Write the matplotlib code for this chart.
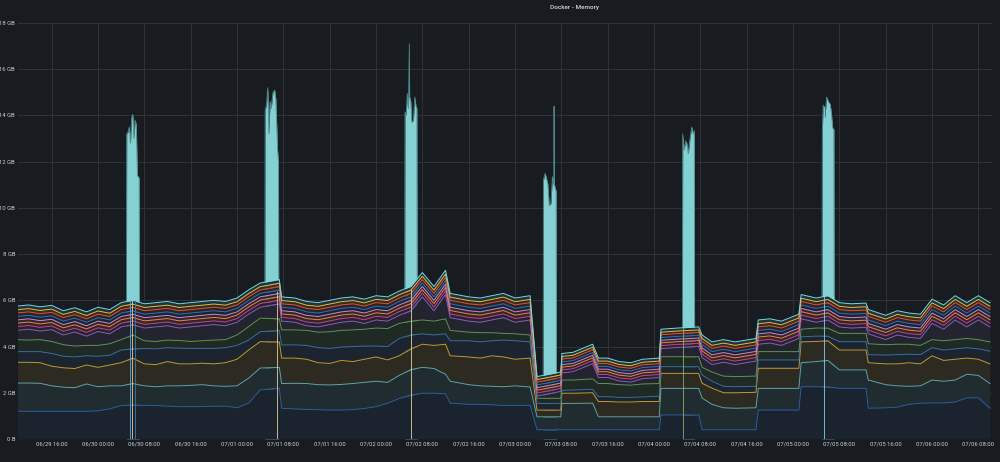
import numpy as np
import matplotlib
matplotlib.use("Agg")
import matplotlib.pyplot as plt
import matplotlib.dates as mdates
from matplotlib.colors import to_rgb

plt.rcParams['font.family'] = ['Roboto', 'DejaVu Sans']

# sample times, hours relative to 06/29 16:00 (denser around the step changes)
start = np.datetime64('2020-06-29T16:00')
hours = [-6, -4, -2, 0, 2, 4, 6, 8, 10,
         12, 14, 16, 18, 20, 22, 24, 26, 28, 30,
         32, 34, 36, 39.3, 39.7,
         42, 44, 46, 48, 50, 52, 54, 56, 58, 60, 62,
         64, 66, 68, 68.8, 72, 74, 76, 78, 80, 82.6,
         83.8, 87.9, 88.1, 90, 93.4, 94.4, 96, 98, 100, 102, 104.9,
         105.2, 108, 111.7,
         112.3, 114, 116, 118, 121.6,
         122, 124, 126, 129,
         129.4, 132, 134,
         136, 138, 140.6,
         141, 144, 146, 148, 150,
         152, 154, 156, 158, 160, 162]

# stacked series (GB), bottom -> top
navy = [1.20, 1.20, 1.20, 1.20, 1.20, 1.20, 1.20, 1.22, 1.30,
        1.45, 1.47, 1.45, 1.45, 1.42, 1.40, 1.40, 1.40, 1.42, 1.42,
        1.35, 1.55, 2.12, 2.20, 1.33,
        1.30, 1.28, 1.27, 1.25, 1.25, 1.27, 1.32, 1.40, 1.55, 1.75, 1.90,
        1.98, 1.98, 1.95, 1.55, 1.50, 1.50, 1.48, 1.45, 1.45, 1.45,
        0.40, 0.40, 0.40, 0.40, 0.40, 0.40, 0.40, 0.40, 0.40, 0.40, 0.40,
        1.04, 1.04, 1.04,
        0.40, 0.40, 0.40, 0.40, 0.40,
        1.25, 1.25, 1.25, 1.25,
        2.26, 2.26, 2.26,
        2.19, 2.19, 2.19,
        1.33, 1.35, 1.38, 1.50, 1.55,
        1.56, 1.56, 1.60, 1.78, 1.78, 1.33]
teal = [1.22, 1.22, 1.21, 1.10, 1.04, 1.02, 1.18, 1.04, 1.00,
        0.85, 0.93, 0.85, 0.81, 0.88, 0.90, 0.92, 0.95, 0.88, 0.86,
        0.95, 1.08, 0.95, 0.90, 1.07,
        1.11, 1.12, 1.08, 1.09, 1.11, 1.13, 1.13, 1.10, 0.90, 1.00, 1.10,
        1.12, 1.07, 0.85, 0.95, 0.85, 0.80, 0.80, 0.81, 0.85, 0.80,
        0.56, 0.56, 1.14, 1.14, 1.15, 0.56, 0.56, 0.56, 0.56, 0.56, 0.56,
        1.15, 1.15, 1.15,
        1.37, 1.10, 0.95, 0.93, 0.95,
        0.94, 0.94, 0.94, 0.94,
        1.04, 1.09, 1.14,
        0.80, 0.80, 0.80,
        1.22, 1.00, 0.92, 0.78, 0.75,
        0.99, 0.94, 0.95, 1.02, 0.97, 1.07]
yellow = [0.90, 0.90, 0.89, 0.85, 0.84, 0.83, 0.82, 0.84, 0.90,
          1.00, 1.10, 0.95, 0.96, 1.05, 0.95, 0.93, 0.93, 0.95, 1.02,
          1.15, 1.22, 1.14, 1.10, 1.10,
          1.09, 1.05, 0.95, 0.93, 1.04, 0.95, 1.00, 1.05, 0.97, 0.85, 0.90,
          1.00, 1.00, 1.30, 1.10, 1.20, 1.20, 1.32, 1.29, 1.15, 1.25,
          0.29, 0.29, 0.44, 0.44, 0.45, 0.66, 0.66, 0.64, 0.64, 0.66, 0.66,
          0.65, 0.65, 0.65,
          0.64, 0.70, 0.65, 0.67, 0.67,
          0.87, 0.87, 0.87, 0.87,
          0.90, 0.87, 0.85,
          0.86, 0.86, 0.86,
          0.75, 0.90, 0.95, 1.02, 0.95,
          1.05, 0.90, 0.90, 0.70, 0.70, 0.85]
blue = [0.46, 0.46, 0.48, 0.55, 0.50, 0.50, 0.40, 0.48, 0.42,
        0.55, 0.40, 0.67, 0.68, 0.60, 0.68, 0.67, 0.64, 0.67, 0.65,
        0.60, 0.43, 0.43, 0.50, 0.57,
        0.57, 0.60, 0.65, 0.65, 0.58, 0.65, 0.57, 0.47, 0.58, 0.75, 0.60,
        0.45, 0.45, 0.45, 0.65, 0.70, 0.70, 0.65, 0.73, 0.80, 0.70,
        0.29, 0.29, 0.12, 0.14, 0.15, 0.21, 0.21, 0.20, 0.20, 0.20, 0.23,
        0.29, 0.29, 0.29,
        0.36, 0.30, 0.28, 0.26, 0.26,
        0.36, 0.36, 0.36, 0.36,
        0.22, 0.23, 0.20,
        0.36, 0.36, 0.36,
        0.35, 0.38, 0.40, 0.37, 0.40,
        0.35, 0.45, 0.45, 0.45, 0.45, 0.55]
green = [0.52, 0.50, 0.52, 0.52, 0.50, 0.47, 0.45, 0.47, 0.50,
         0.45, 0.60, 0.33, 0.32, 0.33, 0.33, 0.30, 0.33, 0.36, 0.35,
         0.45, 0.58, 0.59, 0.50, 0.65,
         0.65, 0.65, 0.67, 0.72, 0.72, 0.72, 0.73, 0.78, 0.78, 0.65, 0.60,
         0.60, 0.60, 0.65, 0.45, 0.37, 0.40, 0.35, 0.29, 0.30, 0.30,
         0.22, 0.22, 0.45, 0.43, 0.45, 0.57, 0.57, 0.55, 0.53, 0.56, 0.55,
         0.43, 0.43, 0.43,
         0.33, 0.40, 0.44, 0.44, 0.44,
         0.36, 0.36, 0.36, 0.36,
         0.33, 0.35, 0.35,
         0.36, 0.36, 0.36,
         0.47, 0.45, 0.45, 0.43, 0.40,
         0.35, 0.40, 0.40, 0.40, 0.40, 0.40]
purple = [0.40, 0.47, 0.37, 0.51, 0.42, 0.61, 0.40, 0.60, 0.43,
          0.55, 0.45, 0.55, 0.63, 0.62, 0.54, 0.63, 0.65, 0.67, 0.60,
          0.55, 0.54, 0.47, 0.65, 0.38,
          0.33, 0.20, 0.23, 0.31, 0.35, 0.38, 0.25, 0.35, 0.32, 0.35, 0.45,
          1.00, 0.45, 1.05, 0.55, 0.48, 0.45, 0.55, 0.68, 0.50, 0.65,
          0.10, 0.30, 0.31, 0.36, 0.66, 0.26, 0.26, 0.16, 0.13, 0.23, 0.26,
          0.35, 0.40, 0.45,
          0.42, 0.32, 0.60, 0.52, 0.65,
          0.32, 0.37, 0.27, 0.57,
          0.45, 0.25, 0.35,
          0.28, 0.23, 0.26,
          0.43, 0.22, 0.40, 0.30, 0.30,
          0.70, 0.50, 0.85, 0.50, 0.85, 0.65]
magenta = [0.16, 0.16, 0.16, 0.16, 0.16, 0.16, 0.16, 0.16, 0.16,
           0.16, 0.16, 0.16, 0.16, 0.16, 0.16, 0.16, 0.16, 0.16, 0.16,
           0.16, 0.16, 0.16, 0.16, 0.16,
           0.16, 0.16, 0.16, 0.16, 0.16, 0.16, 0.16, 0.16, 0.16, 0.16, 0.16,
           0.16, 0.16, 0.16, 0.16, 0.16, 0.16, 0.16, 0.16, 0.16, 0.16,
           0.13, 0.13, 0.13, 0.13, 0.13, 0.13, 0.13, 0.13, 0.13, 0.13, 0.13,
           0.13, 0.13, 0.13,
           0.15, 0.15, 0.15, 0.15, 0.15,
           0.16, 0.16, 0.16, 0.16,
           0.16, 0.16, 0.16,
           0.16, 0.16, 0.16,
           0.16, 0.16, 0.16, 0.16, 0.16,
           0.16, 0.16, 0.16, 0.16, 0.16, 0.16]
orange = [0.15, 0.15, 0.15, 0.15, 0.15, 0.15, 0.15, 0.15, 0.15,
          0.15, 0.15, 0.15, 0.15, 0.15, 0.15, 0.15, 0.15, 0.15, 0.15,
          0.15, 0.15, 0.15, 0.15, 0.15,
          0.15, 0.15, 0.15, 0.15, 0.15, 0.15, 0.15, 0.15, 0.15, 0.15, 0.15,
          0.15, 0.15, 0.15, 0.15, 0.15, 0.15, 0.15, 0.15, 0.15, 0.15,
          0.12, 0.12, 0.12, 0.12, 0.12, 0.12, 0.12, 0.12, 0.12, 0.12, 0.12,
          0.12, 0.12, 0.12,
          0.14, 0.14, 0.14, 0.14, 0.14,
          0.15, 0.15, 0.15, 0.15,
          0.15, 0.15, 0.15,
          0.15, 0.15, 0.15,
          0.15, 0.15, 0.15, 0.15, 0.15,
          0.15, 0.15, 0.15, 0.15, 0.15, 0.15]
pink = [0.14, 0.14, 0.14, 0.14, 0.14, 0.14, 0.14, 0.14, 0.14,
        0.14, 0.14, 0.14, 0.14, 0.14, 0.14, 0.14, 0.14, 0.14, 0.14,
        0.14, 0.14, 0.14, 0.14, 0.14,
        0.14, 0.14, 0.14, 0.14, 0.14, 0.14, 0.14, 0.14, 0.14, 0.14, 0.14,
        0.14, 0.14, 0.14, 0.14, 0.14, 0.14, 0.14, 0.14, 0.14, 0.14,
        0.11, 0.11, 0.11, 0.11, 0.11, 0.11, 0.11, 0.11, 0.11, 0.11, 0.11,
        0.11, 0.11, 0.11,
        0.13, 0.13, 0.13, 0.13, 0.13,
        0.14, 0.14, 0.14, 0.14,
        0.14, 0.14, 0.14,
        0.14, 0.14, 0.14,
        0.14, 0.14, 0.14, 0.14, 0.14,
        0.14, 0.14, 0.14, 0.14, 0.14, 0.14]
skyblue = [0.15, 0.15, 0.15, 0.15, 0.15, 0.15, 0.15, 0.15, 0.15,
           0.15, 0.15, 0.15, 0.15, 0.15, 0.15, 0.15, 0.15, 0.15, 0.15,
           0.15, 0.15, 0.15, 0.15, 0.15,
           0.15, 0.15, 0.15, 0.15, 0.15, 0.15, 0.15, 0.15, 0.15, 0.15, 0.15,
           0.15, 0.15, 0.15, 0.15, 0.15, 0.15, 0.15, 0.15, 0.15, 0.15,
           0.12, 0.12, 0.12, 0.12, 0.12, 0.12, 0.12, 0.12, 0.12, 0.12, 0.12,
           0.12, 0.12, 0.12,
           0.14, 0.14, 0.14, 0.14, 0.14,
           0.15, 0.15, 0.15, 0.15,
           0.15, 0.15, 0.15,
           0.15, 0.15, 0.15,
           0.15, 0.15, 0.15, 0.15, 0.15,
           0.15, 0.15, 0.15, 0.15, 0.15, 0.15]
red = [0.15, 0.15, 0.15, 0.15, 0.15, 0.15, 0.15, 0.15, 0.15,
       0.15, 0.15, 0.15, 0.15, 0.15, 0.15, 0.15, 0.15, 0.15, 0.15,
       0.15, 0.15, 0.15, 0.15, 0.15,
       0.15, 0.15, 0.15, 0.15, 0.15, 0.15, 0.15, 0.15, 0.15, 0.15, 0.15,
       0.15, 0.15, 0.15, 0.15, 0.15, 0.15, 0.15, 0.15, 0.15, 0.15,
       0.12, 0.12, 0.12, 0.12, 0.12, 0.12, 0.12, 0.12, 0.12, 0.12, 0.12,
       0.12, 0.12, 0.12,
       0.14, 0.14, 0.14, 0.14, 0.14,
       0.15, 0.15, 0.15, 0.15,
       0.15, 0.15, 0.15,
       0.15, 0.15, 0.15,
       0.15, 0.15, 0.15, 0.15, 0.15,
       0.15, 0.15, 0.15, 0.15, 0.15, 0.15]
gold = [0.14, 0.14, 0.14, 0.14, 0.14, 0.14, 0.14, 0.14, 0.14,
        0.14, 0.14, 0.14, 0.14, 0.14, 0.14, 0.14, 0.14, 0.14, 0.14,
        0.14, 0.14, 0.14, 0.14, 0.14,
        0.14, 0.14, 0.14, 0.14, 0.14, 0.14, 0.14, 0.14, 0.14, 0.14, 0.14,
        0.14, 0.14, 0.14, 0.14, 0.14, 0.14, 0.14, 0.14, 0.14, 0.14,
        0.11, 0.11, 0.11, 0.11, 0.11, 0.11, 0.11, 0.11, 0.11, 0.11, 0.11,
        0.11, 0.11, 0.11,
        0.13, 0.13, 0.13, 0.13, 0.13,
        0.14, 0.14, 0.14, 0.14,
        0.14, 0.14, 0.14,
        0.14, 0.14, 0.14,
        0.14, 0.14, 0.14, 0.14, 0.14,
        0.14, 0.14, 0.14, 0.14, 0.14, 0.14]
cyan = [0.16, 0.16, 0.16, 0.16, 0.16, 0.16, 0.16, 0.16, 0.16,
        0.16, 0.16, 0.16, 0.16, 0.16, 0.16, 0.16, 0.16, 0.16, 0.16,
        0.16, 0.16, 0.16, 0.16, 0.16,
        0.16, 0.16, 0.16, 0.16, 0.16, 0.16, 0.16, 0.16, 0.16, 0.16, 0.16,
        0.16, 0.16, 0.16, 0.16, 0.16, 0.16, 0.16, 0.16, 0.16, 0.16,
        0.13, 0.13, 0.13, 0.13, 0.13, 0.13, 0.13, 0.13, 0.13, 0.13, 0.13,
        0.13, 0.13, 0.13,
        0.15, 0.15, 0.15, 0.15, 0.15,
        0.16, 0.16, 0.16, 0.16,
        0.16, 0.16, 0.16,
        0.16, 0.16, 0.16,
        0.16, 0.16, 0.16, 0.16, 0.16,
        0.16, 0.16, 0.16, 0.16, 0.16, 0.16]

series = [navy, teal, yellow, blue, green, purple,
          magenta, orange, pink, skyblue, red, gold, cyan]
line_colors = ['#2a5d9e', '#5aa5ab', '#c39a2e', '#3a6ca2', '#5e9450', '#7a68ad',
               '#ba43a9', '#ef843c', '#d683ce', '#1f78c1', '#e24d42', '#eab839', '#70dbed']

# short memory bursts (hours, GB total)
spike_hours = [
    [12.9, 12.95, 13.2, 13.4, 13.6, 13.8, 14.0, 14.2, 14.4, 14.6, 14.8, 15.1, 15.15],
    [36.8, 36.85, 37.1, 37.3, 37.5, 37.7, 37.9, 38.2, 38.5, 38.7, 39.0, 39.15, 39.2],
    [60.95, 61.0, 61.2, 61.4, 61.6, 61.75, 61.8, 62.0, 62.17, 62.45, 62.7, 62.9, 63.05, 63.1],
    [84.85, 84.9, 85.2, 85.4, 85.65, 85.9, 86.2, 86.45, 86.7, 86.74, 86.8, 87.0, 87.1, 87.15],
    [108.9, 108.95, 109.2, 109.45, 109.65, 109.9, 110.2, 110.5, 110.8, 110.95, 111.0],
    [133.0, 133.05, 133.2, 133.5, 133.8, 134.1, 134.4, 134.6, 134.85, 135.05, 135.1],
]
spike_gb = [
    [5.9, 13.2, 13.3, 13.5, 12.8, 13.9, 14.05, 13.0, 13.8, 13.6, 11.4, 11.3, 5.9],
    [6.7, 14.2, 14.5, 15.2, 13.2, 14.6, 14.3, 15.0, 15.1, 14.7, 12.5, 12.0, 6.6],
    [6.5, 14.15, 14.0, 14.95, 14.3, 17.1, 14.8, 14.6, 13.7, 13.8, 14.8, 14.4, 14.3, 6.8],
    [2.8, 11.2, 11.5, 11.3, 11.05, 10.1, 10.2, 11.35, 11.0, 14.4, 11.0, 10.8, 10.7, 2.9],
    [4.8, 13.2, 12.5, 12.9, 12.8, 12.35, 13.0, 13.5, 13.2, 13.35, 4.8],
    [6.2, 13.3, 14.45, 13.9, 14.8, 14.6, 14.5, 14.15, 13.45, 13.4, 6.2],
]

# single-sample drops that show as thin vertical lines
drop_hours = [13.5, 13.9, 14.4, 38.9, 62.0, 109.0, 133.3]
drop_gb = [6.0, 6.0, 6.0, 6.4, 6.5, 4.8, 14.4]
drop_colors = ['#5fa8d8', '#e8cf9c', '#3f77b0', '#e8cf9c', '#e8cf9c', '#7eb26d', '#7fd3ef']

y_ticks = [0, 2, 4, 6, 8, 10, 12, 14, 16, 18]
y_labels = ['0 B', '2 GB', '4 GB', '6 GB', '8 GB', '10 GB', '12 GB', '14 GB', '16 GB', '18 GB']

bg = '#181b1f'


def to_time(h):
    return start + (np.asarray(h, dtype=float) * 60).round().astype(int).astype('timedelta64[m]')


def blend(c, a=0.12):
    b = np.array(to_rgb(bg))
    return tuple((1 - a) * b + a * np.array(to_rgb(c)))


times = to_time(hours)

fig = plt.figure(figsize=(10, 4.62), dpi=100, facecolor=bg)
ax = fig.add_axes([0.018, 0.0498, 0.9737, 0.9004], facecolor=bg)

for h, v in zip(spike_hours, spike_gb):
    t = to_time(h)
    ax.fill_between(t, 0, v, color='#84d0d3', lw=0, zorder=1)
    ax.plot(t, v, color='#4f8c8e', lw=0.6, zorder=1.5)

lower = np.zeros(len(hours))
for vals, col in zip(series, line_colors):
    upper = lower + np.array(vals)
    ax.fill_between(times, lower, upper, color=blend(col), lw=0, zorder=2)
    ax.plot(times, upper, color=col, lw=0.7, zorder=3)
    lower = upper

ax.vlines(to_time(drop_hours), 0, drop_gb, colors=drop_colors, lw=0.6, zorder=4)

ax.set_ylim(0, 18)
ax.set_xlim(to_time(-5.82), to_time(162.3))
ax.set_yticks(y_ticks)
ax.set_yticklabels(y_labels)
ax.xaxis.set_major_locator(mdates.HourLocator(byhour=[0, 8, 16]))
ax.xaxis.set_major_formatter(mdates.DateFormatter('%m/%d %H:%M'))
ax.tick_params(colors='#c7d0d9', labelsize=4.2, length=0, pad=2)
ax.grid(True, color='#2f3237', lw=0.7)
ax.set_axisbelow(True)
for s in ax.spines.values():
    s.set_visible(False)

fig.text(0.574, 0.983, 'Docker - Memory', ha='center', va='center',
         fontsize=4.6, color='#d8d9da', fontweight='medium')

fig.savefig('out.png', dpi=100, facecolor=bg)
